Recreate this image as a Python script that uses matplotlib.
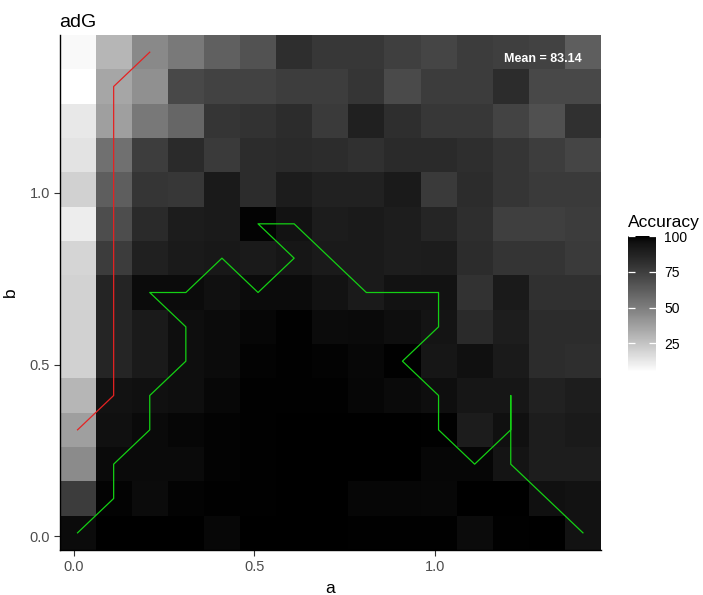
"""Accuracy heatmap over the (a, b) grid for adG, with the two search paths drawn on top."""

import matplotlib
matplotlib.use("Agg")
import matplotlib.pyplot as plt
import numpy as np
from matplotlib.colors import ListedColormap, Normalize

plt.rcParams["font.family"] = ["Liberation Sans", "DejaVu Sans"]

A_VALUES = [0.01, 0.11, 0.21, 0.31, 0.41, 0.51, 0.61, 0.71, 0.81, 0.91, 1.01, 1.11, 1.21, 1.31, 1.41]
B_VALUES = [0.01, 0.11, 0.21, 0.31, 0.41, 0.51, 0.61, 0.71, 0.81, 0.91, 1.01, 1.11, 1.21, 1.31, 1.41]

# accuracy per cell, rows from b = 1.41 (top) down to b = 0.01, columns a = 0.01 .. 1.41
ACCURACY = [
    [7.0, 29.8, 45.6, 51.5, 61.1, 66.8, 81.9, 77.8, 77.8, 74.4, 71.8, 76.2, 74.4, 73.5, 62.0],
    [5.0, 35.1, 43.5, 70.9, 73.5, 73.5, 75.3, 75.3, 78.5, 70.2, 76.2, 76.2, 82.8, 70.9, 70.9],
    [12.6, 37.9, 52.1, 59.0, 78.5, 80.2, 82.8, 76.9, 88.4, 81.9, 77.8, 77.8, 72.6, 67.6, 81.0],
    [14.6, 55.2, 75.3, 83.7, 76.9, 82.8, 83.7, 82.8, 81.0, 83.7, 83.7, 81.9, 78.5, 75.3, 71.8],
    [20.5, 62.0, 78.5, 77.8, 91.2, 82.8, 90.2, 87.4, 87.4, 91.2, 76.9, 82.8, 78.5, 76.9, 76.9],
    [11.3, 68.5, 83.7, 90.2, 91.2, 99.0, 94.8, 90.2, 91.2, 89.4, 85.6, 81.9, 74.4, 74.4, 76.2],
    [19.3, 76.2, 88.4, 91.2, 92.1, 91.2, 93.1, 91.2, 91.2, 89.4, 90.2, 82.8, 79.4, 79.4, 76.9],
    [19.9, 86.5, 96.9, 96.9, 95.5, 96.9, 96.9, 94.8, 91.2, 94.8, 94.8, 80.2, 91.2, 81.0, 81.0],
    [20.5, 85.6, 91.2, 96.2, 96.9, 98.5, 99.5, 96.9, 97.4, 96.2, 94.0, 83.7, 89.4, 82.8, 82.8],
    [20.5, 85.6, 91.2, 96.2, 96.9, 99.0, 99.5, 99.0, 97.9, 99.5, 93.1, 95.5, 91.2, 82.8, 81.9],
    [29.8, 94.8, 95.5, 96.2, 97.9, 99.5, 99.5, 99.5, 98.5, 97.4, 96.2, 93.1, 93.1, 87.4, 89.4],
    [37.9, 95.5, 97.4, 98.5, 99.0, 99.5, 100.0, 100.0, 100.0, 100.0, 99.5, 90.2, 95.5, 89.4, 91.2],
    [44.9, 97.4, 97.4, 97.4, 99.0, 99.5, 100.0, 100.0, 100.0, 100.0, 98.5, 98.5, 94.0, 89.4, 89.4],
    [76.2, 99.0, 96.9, 99.0, 99.5, 99.5, 100.0, 100.0, 98.5, 98.5, 97.9, 100.0, 100.0, 95.5, 94.8],
    [96.9, 100.0, 100.0, 100.0, 97.9, 100.0, 100.0, 100.0, 99.5, 99.5, 99.5, 96.9, 99.5, 100.0, 94.8],
]
MEAN_LABEL = "Mean = 83.14"

RED_A = [0.01, 0.11, 0.11, 0.21]
RED_B = [0.31, 0.41, 1.31, 1.41]

GREEN_A = [0.01, 0.11, 0.11, 0.21, 0.21, 0.31, 0.31, 0.21, 0.31, 0.41, 0.51, 0.61, 0.51, 0.61,
           0.81, 1.01, 1.01, 0.91, 1.01, 1.01, 1.11, 1.21, 1.21, 1.21, 1.41]
GREEN_B = [0.01, 0.11, 0.21, 0.31, 0.41, 0.51, 0.61, 0.71, 0.71, 0.81, 0.71, 0.81, 0.91, 0.91,
           0.71, 0.71, 0.61, 0.51, 0.41, 0.31, 0.21, 0.31, 0.41, 0.21, 0.01]


def lab_grey_cmap(n=256):
    # white -> black with lightness L* falling linearly, like ggplot's Lab gradient
    L = np.linspace(100, 0, n)
    Y = np.where(L > 8, ((L + 16) / 116) ** 3, L / 903.3)
    s = np.where(Y <= 0.0031308, 12.92 * Y, 1.055 * Y ** (1 / 2.4) - 0.055)
    s = np.clip(s, 0, 1)
    return ListedColormap(np.column_stack([s, s, s]))


fig = plt.figure(figsize=(7.03, 5.95), dpi=100)
W, H = 703, 595
ax = fig.add_axes([59.5 / W, 1 - 550 / H, 541.5 / W, 515 / H])

Z = np.flipud(np.array(ACCURACY))
norm = Normalize(vmin=Z.min(), vmax=Z.max())
cmap = lab_grey_cmap()
mesh = ax.pcolormesh(A_VALUES, B_VALUES, Z, shading="nearest", cmap=cmap, norm=norm)

ax.plot(RED_A, RED_B, color="#e52222", lw=0.9)
ax.plot(GREEN_A, GREEN_B, color="#14d014", lw=0.9)
ax.text(1.30, 1.39, MEAN_LABEL, color="white", fontsize=9, fontweight="bold", ha="center", va="center")

ax.set_xlim(-0.04, 1.46); ax.set_ylim(-0.04, 1.46)
ax.set_xticks([0, 0.5, 1.0]); ax.set_xticklabels(["0.0", "0.5", "1.0"])
ax.set_yticks([0, 0.5, 1.0]); ax.set_yticklabels(["0.0", "0.5", "1.0"])
ax.tick_params(length=4, width=0.8, color="#333333", labelsize=10.5, labelcolor="#4d4d4d", pad=3)
for side in ("top", "right"):
    ax.spines[side].set_visible(False)
for side in ("left", "bottom"):
    ax.spines[side].set_color("black"); ax.spines[side].set_linewidth(1.0)
ax.set_xlabel("a", fontsize=12.5, labelpad=5)
ax.set_ylabel("b", fontsize=12.5, labelpad=8)
ax.set_title("adG", loc="left", fontsize=14, pad=6)

# colour bar in ggplot style
cax = fig.add_axes([628 / W, 1 - 372 / H, 28 / W, 136 / H])
cb = fig.colorbar(mesh, cax=cax, ticks=[25, 50, 75, 100])
cb.outline.set_visible(False)
cax.yaxis.set_ticks_position("both")
cax.tick_params(axis="y", direction="in", length=5, width=0.9, color="white",
                labelsize=10, labelcolor="black", right=True, left=True, labelleft=False, pad=6)
fig.text(628 / W, 1 - 222 / H, "Accuracy", fontsize=12.5, ha="left", va="center")

fig.savefig("out.png", dpi=100)
